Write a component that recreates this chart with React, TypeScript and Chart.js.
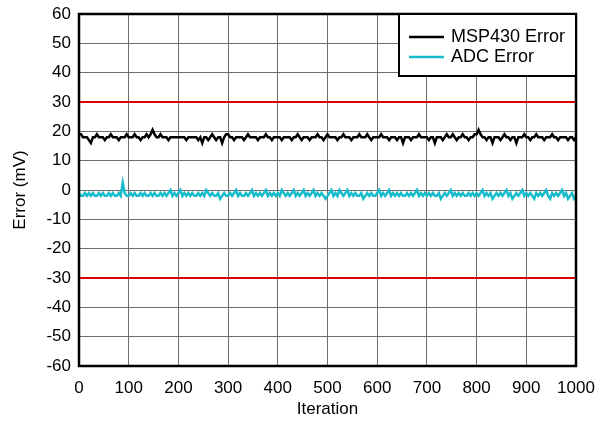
import React, { useEffect, useRef } from "react";
import { Chart, registerables } from "chart.js";

Chart.register(...registerables);

const STEP = 4;
const iterations: number[] = Array.from({ length: 251 }, (_, i) => i * STEP);

const msp430Error: number[] = [
  19, 19, 18, 18, 18, 17, 16, 18, 18, 19, 18, 18, 18, 17, 18, 18, 19, 18, 18, 18, 17, 18, 18, 18, 19,
  18, 18, 18, 19, 18, 18, 17, 18, 18, 19, 18, 19, 20.5, 19, 18, 18, 19, 18, 18, 18, 17, 18, 18, 18, 18,
  18, 18, 18, 18, 17, 18, 18, 18, 18, 18, 17, 18, 16, 18, 18, 17, 18, 19, 18, 17, 18, 18, 16, 18, 19,
  19, 18, 18, 17, 18, 18, 18, 18, 17, 18, 19, 18, 18, 18, 18, 17, 18, 18, 18, 19, 18, 18, 17, 18, 18,
  18, 18, 17, 18, 18, 18, 18, 17, 18, 18, 19, 18, 17, 18, 18, 18, 17, 18, 18, 18, 19, 18, 18, 17, 18,
  19, 18, 18, 18, 18, 17, 18, 18, 19, 18, 18, 18, 17, 18, 18, 18, 19, 18, 18, 18, 19, 18, 17, 18, 18,
  18, 18, 19, 18, 18, 18, 17, 18, 18, 18, 17, 18, 18, 16, 18, 18, 18, 17, 18, 18, 18, 19, 18, 18, 18,
  18, 17, 18, 18, 16, 18, 18, 18, 17, 18, 19, 18, 18, 19, 18, 17, 18, 18, 19, 18, 18, 17, 18, 18, 19,
  19, 20.5, 19, 18, 18, 17, 18, 18, 16, 18, 18, 18, 17, 18, 19, 18, 18, 17, 18, 18, 16, 18, 18, 18, 19,
  18, 18, 17, 18, 18, 19, 18, 18, 18, 17, 18, 18, 18, 19, 18, 18, 17, 18, 18, 18, 18, 17, 18, 18, 17,
  18,
];

const adcError: number[] = [
  -1, -2, -2, -1, -2, -1, -2, -1, -2, -2, -1, -2, -1, -2, -2, -1, -2, -1, -2, -2, -1, -2, 2.5, -1, -2,
  -2, -1, -2, -1, -2, -2, -1, -2, -1, -2, -2, -1, -2, -1, -2, -2, -1, -2, -1, -2, -1, 0, -2, -1, -2,
  -1, 0, -2, -1, -2, -1, -2, -1, -2, -2, -1, -2, -1, -2, 0, -1, -2, -1, -2, -2, -1, -3, -2, -1, -2,
  -2, -1, -2, -1, 0, -2, -1, -2, -2, -1, -2, -1, 0, -2, -1, -2, -1, -2, -1, 0, -2, -1, -2, -1, -2,
  -1, -2, 0, -1, -2, -1, -2, -1, 0, -2, -1, -2, -1, 0, -2, -1, -2, -1, 0, -2, -1, -2, -1, -2, -3,
  -2, -1, 0, -2, -1, -2, 0, -1, -2, -1, 0, -2, -1, -2, -1, -2, -2, -1, -3, -2, -1, -2, -1, -2, -2,
  -1, 0, -2, -1, -2, -1, 0, -2, -1, -2, -1, -2, -1, -2, -2, -1, -2, -1, -2, -1, 0, -2, -1, -2, -1,
  -2, -1, -2, -1, -2, -2, -1, -3, -2, -1, -2, -1, 0, -2, -1, -2, -1, -2, -1, -2, -2, -1, -2, -1, -2,
  -1, -2, -1, 0, -2, -1, -2, -1, -3, -2, -1, -2, -1, -2, -1, 0, -2, -1, -3, -2, -1, -2, -1, 0, -2,
  -1, -2, -1, -2, -3, -1, -2, -1, -2, -1, 0, -2, -3, -1, -2, -1, -2, -1, 0, -2, -1, -3, -2, -1, -3,
  -2,
];

const limitX: number[] = [0, 1000];
const upperLimit: number[] = [30, 30];
const lowerLimit: number[] = [-30, -30];

const FONT = "'Liberation Sans', Arial, sans-serif";

const frameAndLegend = {
  id: "frameAndLegend",
  afterDraw(chart: any) {
    const { ctx, chartArea } = chart;
    ctx.save();
    ctx.strokeStyle = "#000";
    ctx.lineWidth = 2.5;
    ctx.strokeRect(chartArea.left, chartArea.top, chartArea.right - chartArea.left, chartArea.bottom - chartArea.top);
    const w = 177;
    const h = 62;
    const x = chartArea.right - w;
    const y = chartArea.top;
    ctx.fillStyle = "#fff";
    ctx.fillRect(x, y, w, h);
    ctx.lineWidth = 2;
    ctx.strokeStyle = "#000";
    ctx.strokeRect(x, y, w, h);
    const items = chart.data.datasets.filter((d: any) => !d.hideInLegend);
    ctx.font = `18px ${FONT}`;
    ctx.textBaseline = "middle";
    items.forEach((d: any, i: number) => {
      const cy = y + 23 + i * 20;
      ctx.strokeStyle = d.borderColor;
      ctx.lineWidth = 2.5;
      ctx.beginPath();
      ctx.moveTo(x + 10, cy);
      ctx.lineTo(x + 45, cy);
      ctx.stroke();
      ctx.fillStyle = "#000";
      ctx.fillText(d.label, x + 52, cy);
    });
    ctx.restore();
  },
};

export default function App() {
  const ref = useRef<HTMLCanvasElement>(null);
  useEffect(() => {
    if (!ref.current) return;
    const chart = new Chart(ref.current, {
      type: "line",
      data: {
        datasets: [
          {
            label: "MSP430 Error",
            data: iterations.map((x, i) => ({ x, y: msp430Error[i] })),
            borderColor: "#000000",
            borderWidth: 2.5,
            pointRadius: 0,
            tension: 0,
          },
          {
            label: "ADC Error",
            data: iterations.map((x, i) => ({ x, y: adcError[i] })),
            borderColor: "#17bccb",
            borderWidth: 2.5,
            pointRadius: 0,
            tension: 0,
          },
          {
            label: "Upper",
            hideInLegend: true,
            data: limitX.map((x, i) => ({ x, y: upperLimit[i] })),
            borderColor: "#dd0000",
            borderWidth: 2,
            pointRadius: 0,
          },
          {
            label: "Lower",
            hideInLegend: true,
            data: limitX.map((x, i) => ({ x, y: lowerLimit[i] })),
            borderColor: "#dd0000",
            borderWidth: 2,
            pointRadius: 0,
          },
        ] as any,
      },
      options: {
        animation: false,
        responsive: false,
        maintainAspectRatio: false,
        layout: { padding: { left: 0, right: 27, top: 14, bottom: 0 } },
        plugins: {
          legend: { display: false },
          tooltip: { enabled: false },
        },
        scales: {
          x: {
            type: "linear",
            min: 0,
            max: 1000,
            afterFit: (s: any) => {
              s.height = 55;
              s.paddingLeft = 0;
              s.paddingRight = 0;
            },
            ticks: {
              stepSize: 100,
              color: "#000",
              padding: 12,
              maxRotation: 0,
              callback: (v: any) => String(v),
              font: { family: FONT, size: 17 },
            },
            grid: { color: "#6e6e6e", lineWidth: 1, drawTicks: false },
            border: { display: false },
            title: {
              display: true,
              text: "Iteration",
              color: "#000",
              font: { family: FONT, size: 17 },
              padding: { top: 0, bottom: 1 },
            },
          },
          y: {
            type: "linear",
            min: -60,
            max: 60,
            afterFit: (s: any) => {
              s.width = 79;
              s.paddingTop = 0;
              s.paddingBottom = 0;
            },
            ticks: {
              stepSize: 10,
              color: "#000",
              padding: 8,
              font: { family: FONT, size: 17 },
            },
            grid: { color: "#6e6e6e", lineWidth: 1, drawTicks: false },
            border: { display: false },
            title: {
              display: true,
              text: "Error (mV)",
              color: "#000",
              font: { family: FONT, size: 17 },
              padding: { top: 10, bottom: 0 },
            },
          },
        },
      },
      plugins: [frameAndLegend],
    });
    return () => chart.destroy();
  }, []);
  return (
    <div style={{ position: "absolute", left: 0, top: 0, width: 603, height: 421, background: "#fff" }}>
      <canvas ref={ref} width={603} height={421} style={{ display: "block" }} />
    </div>
  );
}
